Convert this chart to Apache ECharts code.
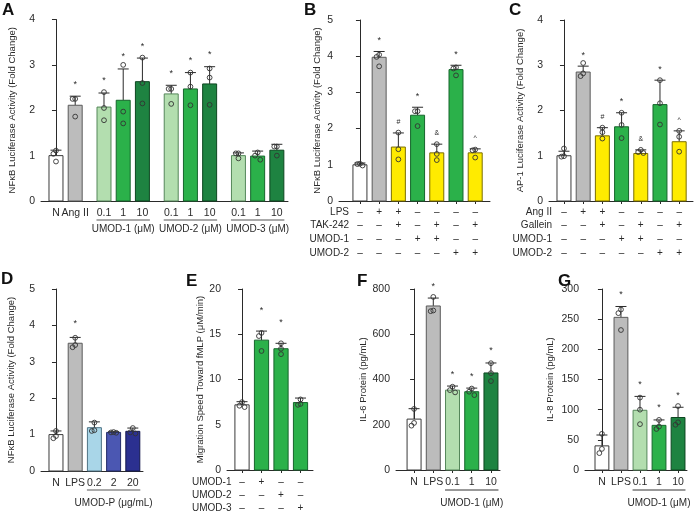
<!DOCTYPE html>
<html>
<head>
<meta charset="utf-8">
<script src="https://cdn.jsdelivr.net/npm/echarts@6/dist/echarts.min.js"></script>
<style>
  html, body { margin: 0; padding: 0; background: #fff; }
  #chart { width: 696px; height: 511px; }
</style>
</head>
<body>
<div id="chart"></div>
<script>
// ---- panel A: NFkB, Ang II + UMOD-1/2/3 ----
const aLabels = ['N', 'Ang II', '0.1', '1', '10', '0.1', '1', '10', '0.1', '1', '10'];
const aGroupOf = [0, 0, 1, 1, 1, 2, 2, 2, 3, 3, 3];
const aGroupNames = ['', 'UMOD-1 (μM)', 'UMOD-2 (μM)', 'UMOD-3 (μM)'];
const aMean = [1.0, 2.11, 2.07, 2.22, 2.63, 2.36, 2.47, 2.58, 1.0, 0.99, 1.12];
const aErr = [1.12, 2.31, 2.38, 2.91, 3.15, 2.55, 2.83, 2.96, 1.06, 1.1, 1.25];
const aDots = [[1.11, 1.04, 0.87], [2.25, 2.25, 1.86], [2.4, 2.05, 1.78], [3.0, 1.97, 1.71],
  [3.16, 2.6, 2.15], [2.47, 2.47, 2.14], [2.83, 2.52, 2.11], [2.92, 2.72, 2.12],
  [1.05, 1.05, 0.94], [1.07, 1.0, 0.91], [1.2, 1.2, 1.0]];
const aMarks = ['', '*', '*', '*', '*', '*', '*', '*', '', '', ''];
const aKind = ['ctrl', 'ref', 'lo', 'mid', 'hi', 'lo', 'mid', 'hi', 'lo', 'mid', 'hi'];

// ---- panel B: NFkB, LPS / TAK-242 ----
const bRows = ['LPS', 'TAK-242', 'UMOD-1', 'UMOD-2'];
const bSigns = [
  ['–', '+', '+', '–', '–', '–', '–'],
  ['–', '–', '+', '–', '+', '–', '+'],
  ['–', '–', '–', '+', '+', '–', '–'],
  ['–', '–', '–', '–', '–', '+', '+']];
const bMean = [1.0, 3.97, 1.49, 2.37, 1.33, 3.63, 1.33];
const bErr = [1.05, 4.13, 1.88, 2.59, 1.57, 3.75, 1.44];
const bDots = [[1.03, 1.02, 0.98], [4.04, 3.98, 3.72], [1.89, 1.43, 1.15], [2.48, 2.48, 2.07],
  [1.57, 1.3, 1.13], [3.69, 3.66, 3.47], [1.42, 1.4, 1.2]];
const bMarks = ['', '*', '#', '*', '&', '*', '^'];
const bKind = ['ctrl', 'ref', 'yel', 'mid', 'yel', 'mid', 'yel'];

// ---- panel C: AP-1, Ang II / Gallein ----
const cRows = ['Ang II', 'Gallein', 'UMOD-1', 'UMOD-2'];
const cSigns = bSigns;
const cMean = [1.0, 2.85, 1.44, 1.64, 1.05, 2.13, 1.31];
const cErr = [1.1, 2.98, 1.62, 1.95, 1.13, 2.67, 1.55];
const cDots = [[1.16, 0.99, 0.98], [3.05, 2.82, 2.76], [1.62, 1.52, 1.38], [1.95, 1.68, 1.39],
  [1.13, 1.08, 1.06], [2.67, 2.16, 1.69], [1.55, 1.42, 1.09]];
const cMarks = ['', '*', '#', '*', '&', '*', '^'];
const cKind = ['ctrl', 'ref', 'yel', 'mid', 'yel', 'mid', 'yel'];

// ---- panel D: UMOD-P ----
const dLabels = ['N', 'LPS', '0.2', '2', '20'];
const dGroupOf = [0, 0, 1, 1, 1];
const dGroupNames = ['', 'UMOD-P (μg/mL)'];
const dMean = [1.0, 3.51, 1.19, 1.06, 1.09];
const dErr = [1.1, 3.67, 1.35, 1.08, 1.18];
const dDots = [[1.1, 0.96, 0.9], [3.66, 3.46, 3.4], [1.33, 1.12, 1.1], [1.07, 1.06, 1.05], [1.18, 1.06, 1.03]];
const dMarks = ['', '*', '', '', ''];
const dKind = ['ctrl', 'ref', 'b1', 'b2', 'b3'];

// ---- panel E: migration speed ----
const eRows = ['UMOD-1', 'UMOD-2', 'UMOD-3'];
const eSigns = [
  ['–', '+', '–', '–'],
  ['–', '–', '+', '–'],
  ['–', '–', '–', '+']];
const eMean = [7.2, 14.35, 13.4, 7.45];
const eErr = [7.55, 15.35, 14.0, 7.95];
const eDots = [[7.5, 7.1, 6.95], [15.15, 14.8, 13.15], [14.0, 13.4, 12.8], [7.8, 7.3, 7.2]];
const eMarks = ['', '*', '*', ''];
const eKind = ['ctrl', 'mid', 'mid', 'mid'];

// ---- panel F: IL-6 ----
const fLabels = ['N', 'LPS', '0.1', '1', '10'];
const fGroupOf = [0, 0, 1, 1, 1];
const fGroupNames = ['', 'UMOD-1 (μM)'];
const fMean = [225, 725, 353, 346, 429];
const fErr = [271, 760, 371, 362, 473];
const fDots = [[270, 208, 196], [765, 705, 702], [368, 353, 343], [360, 346, 331], [472, 428, 393]];
const fMarks = ['', '*', '*', '*', '*'];
const fKind = ['ctrl', 'ref', 'lo', 'mid', 'hi'];

// ---- panel G: IL-8 ----
const gLabels = ['N', 'LPS', '0.1', '1', '10'];
const gGroupOf = [0, 0, 1, 1, 1];
const gGroupNames = ['', 'UMOD-1 (μM)'];
const gMean = [40, 253, 99, 74, 87];
const gErr = [58, 271, 122, 83, 104];
const gDots = [[60, 35, 28], [266, 260, 232], [120, 100, 76], [83, 72, 68], [106, 79, 75]];
const gMarks = ['', '*', '*', '*', '*'];
const gKind = ['ctrl', 'ref', 'lo', 'mid', 'hi'];

const FONT = '"Liberation Sans", Arial, Helvetica, sans-serif';
const INK = '#2a2a2a';
const fills = {
  ctrl: ['#ffffff', '#3a3a3a'],
  ref: ['#bcbcbc', '#5a5a5a'],
  lo: ['#b3deaf', '#55875a'],
  mid: ['#2bb14a', '#16652c'],
  hi: ['#1e8341', '#0d4620'],
  yel: ['#ffeb00', '#7a6d00'],
  b1: ['#a9d6e8', '#4f7486'],
  b2: ['#4b57b2', '#222a68'],
  b3: ['#2b3090', '#12164c']
};

function withGaps(groupOf, gap) {
  return groupOf.map((g, i) => i + g * gap);
}

const panels = [
  { letter: 'A', lx: 2, ly: 2, grid: { left: 41, top: 19.5, width: 247, height: 181.5 },
    xMin: -0.78, xMax: 12.08, yMax: 4, yStep: 1, nameGap: 24,
    yName: 'NFκB Luciferase Activity (Fold Change)',
    pos: withGaps(aGroupOf, 0.5), mean: aMean, err: aErr, dots: aDots, marks: aMarks, kind: aKind,
    labels: aLabels, groupOf: aGroupOf, groupNames: aGroupNames,
    lineOff: 19, textOff: 28, lineColor: '#555', lineW: 1, starGap: 12, ticks: false },
  { letter: 'B', lx: 304, ly: 2, grid: { left: 339, top: 20, width: 151, height: 181 },
    xMin: -1.09, xMax: 6.77, yMax: 5, yStep: 1, nameGap: 17,
    yName: 'NFκB Luciferase Activity (Fold Change)',
    pos: bMean.map((v, i) => i), mean: bMean, err: bErr, dots: bDots, marks: bMarks, kind: bKind,
    rows: bRows, signs: bSigns, rowX: 349, rowAlign: 'right', signTop: 11, rowH: 13.7,
    starGap: 11, ticks: true },
  { letter: 'C', lx: 509, ly: 2, grid: { left: 549, top: 20, width: 144, height: 181 },
    xMin: -0.78, xMax: 6.72, yMax: 4, yStep: 1, nameGap: 24,
    yName: 'AP-1 Luciferase Activity (Fold Change)',
    pos: cMean.map((v, i) => i), mean: cMean, err: cErr, dots: cDots, marks: cMarks, kind: cKind,
    rows: cRows, signs: cSigns, rowX: 552, rowAlign: 'right', signTop: 11, rowH: 13.7,
    starGap: 11, ticks: true },
  { letter: 'D', lx: 1, ly: 271, grid: { left: 41, top: 289, width: 102, height: 182 },
    xMin: -0.78, xMax: 4.53, yMax: 5, yStep: 1, nameGap: 25,
    yName: 'NFκB Luciferase Activity (Fold Change)',
    pos: withGaps(dGroupOf, 0), mean: dMean, err: dErr, dots: dDots, marks: dMarks, kind: dKind,
    labels: dLabels, groupOf: dGroupOf, groupNames: dGroupNames,
    lineOff: 19, textOff: 32, lineColor: '#aaaaaa', lineW: 2, starGap: 14, ticks: false },
  { letter: 'E', lx: 186, ly: 273, grid: { left: 227, top: 289, width: 86, height: 181 },
    xMin: -0.77, xMax: 3.64, yMax: 20, yStep: 5, nameGap: 19,
    yName: 'Migration Speed Toward fMLP (μM/min)',
    pos: eMean.map((v, i) => i), mean: eMean, err: eErr, dots: eDots, marks: eMarks, kind: eKind,
    rows: eRows, signs: eSigns, rowX: 192, rowAlign: 'left', signTop: 12, rowH: 13.3,
    starGap: 21, ticks: true },
  { letter: 'F', lx: 357, ly: 273, grid: { left: 396, top: 289, width: 104, height: 181 },
    xMin: -0.94, xMax: 4.47, yMax: 800, yStep: 200, nameGap: 28,
    yName: 'IL-6 Protein (pg/mL)',
    pos: withGaps(fGroupOf, 0), mean: fMean, err: fErr, dots: fDots, marks: fMarks, kind: fKind,
    labels: fLabels, groupOf: fGroupOf, groupNames: fGroupNames,
    lineOff: 20, textOff: 33, lineColor: '#333', lineW: 1, starGap: 12, ticks: true },
  { letter: 'G', lx: 558, ly: 273, grid: { left: 585, top: 289, width: 102, height: 181 },
    xMin: -0.89, xMax: 4.47, yMax: 300, yStep: 50, nameGap: 30,
    yName: 'IL-8 Protein (pg/mL)',
    pos: withGaps(gGroupOf, 0), mean: gMean, err: gErr, dots: gDots, marks: gMarks, kind: gKind,
    labels: gLabels, groupOf: gGroupOf, groupNames: gGroupNames,
    lineOff: 20, textOff: 33, lineColor: '#333', lineW: 1, starGap: 12, ticks: true }
];

function txt(x, y, s, size, align) {
  return { type: 'text', x: x, y: y,
    style: { text: s, fill: INK, font: size + 'px ' + FONT, textAlign: align || 'center', textVerticalAlign: 'middle' } };
}

function barSeries(p, k) {
  return {
    type: 'custom', xAxisIndex: k, yAxisIndex: k, clip: false,
    data: p.mean.map((m, i) => [p.pos[i], m, p.err[i]]),
    renderItem(params, api) {
      const i = params.dataIndex;
      const x = api.value(0), m = api.value(1), e = api.value(2);
      const base = api.coord([x, 0]), top = api.coord([x, m]), cap = api.coord([x, e]);
      const w = api.size([0.78, 0])[0];
      const capW = 11;
      const col = fills[p.kind[i]];
      const kids = [
        { type: 'line', shape: { x1: cap[0], y1: top[1], x2: cap[0], y2: cap[1] }, style: { stroke: INK, lineWidth: 1 } },
        { type: 'line', shape: { x1: cap[0] - capW / 2, y1: cap[1], x2: cap[0] + capW / 2, y2: cap[1] }, style: { stroke: INK, lineWidth: 1 } },
        { type: 'rect', shape: { x: base[0] - w / 2 + 0.5, y: top[1], width: w - 1, height: base[1] - top[1] },
          style: { fill: col[0], stroke: col[1], lineWidth: 1 } }
      ];
      // open circles, nudged sideways when they overlap
      const ys = p.dots[i].map(v => api.coord([x, v])[1]).sort((a, b) => a - b);
      let prev = -99, side = -1;
      ys.forEach(y => {
        let dx = 0;
        if (y - prev < 4.5) { dx = side * 2.6; side = -side; }
        else side = -1;
        prev = y;
        kids.push({ type: 'circle', shape: { cx: base[0] + dx, cy: y, r: 2.4 },
          style: { fill: 'rgba(255,255,255,0)', stroke: '#333', lineWidth: 0.9 } });
      });
      if (p.marks[i]) kids.push(txt(base[0], cap[1] - p.starGap, p.marks[i], p.marks[i] === '*' ? 9 : 7));
      if (p.labels) kids.push(txt(base[0], base[1] + 12, p.labels[i], 10.5));
      if (p.signs) p.signs.forEach((row, r) => kids.push(txt(base[0], base[1] + p.signTop + r * p.rowH, row[i], 10)));
      return { type: 'group', children: kids };
    }
  };
}

function groupSeries(p, k) {
  const spans = [];
  p.groupNames.forEach((name, g) => {
    if (!name) return;
    const idx = p.groupOf.map((v, i) => v === g ? i : -1).filter(i => i >= 0);
    spans.push([p.pos[idx[0]], p.pos[idx[idx.length - 1]], g]);
  });
  return {
    type: 'custom', xAxisIndex: k, yAxisIndex: k, clip: false, silent: true,
    data: spans,
    renderItem(params, api) {
      const a = api.coord([api.value(0) - 0.39, 0]), b = api.coord([api.value(1) + 0.39, 0]);
      const y = a[1] + p.lineOff;
      return { type: 'group', children: [
        { type: 'line', shape: { x1: a[0], y1: y, x2: b[0], y2: y }, style: { stroke: p.lineColor, lineWidth: p.lineW } },
        txt((a[0] + b[0]) / 2, a[1] + p.textOff, p.groupNames[api.value(2)], 10)
      ] };
    }
  };
}

const grid = [], xAxis = [], yAxis = [], series = [], graphic = [];
panels.forEach((p, k) => {
  grid.push(Object.assign({ containLabel: false }, p.grid));
  xAxis.push({
    type: 'value', gridIndex: k, min: p.xMin, max: p.xMax,
    axisLine: { show: true, onZero: false, lineStyle: { color: INK, width: 1 } },
    axisTick: { show: p.ticks, customValues: p.pos, length: 3, lineStyle: { color: INK } },
    axisLabel: { show: false }, splitLine: { show: false }
  });
  yAxis.push({
    type: 'value', gridIndex: k, min: 0, max: p.yMax, interval: p.yStep,
    name: p.yName, nameLocation: 'middle', nameRotate: 90, nameGap: p.nameGap,
    nameTextStyle: { fontSize: 9.5, color: INK, fontFamily: FONT },
    axisLine: { show: true, lineStyle: { color: INK, width: 1 } },
    axisTick: { show: true, length: 4, lineStyle: { color: INK } },
    axisLabel: { fontSize: 10.5, color: INK, fontFamily: FONT, margin: 6 },
    splitLine: { show: false }
  });
  series.push(barSeries(p, k));
  if (p.groupNames) series.push(groupSeries(p, k));
  graphic.push({ type: 'text', left: p.lx, top: p.ly,
    style: { text: p.letter, font: 'bold 17px ' + FONT, fill: '#111' } });
  if (p.rows) p.rows.forEach((r, j) => {
    graphic.push({ type: 'text', x: p.rowX, y: p.grid.top + p.grid.height + p.signTop + j * p.rowH,
      style: { text: r, font: '10px ' + FONT, fill: INK, textAlign: p.rowAlign, textVerticalAlign: 'middle' } });
  });
});

const chart = echarts.init(document.getElementById('chart'), null, { renderer: 'canvas' });
chart.setOption({
  animation: false,
  backgroundColor: '#ffffff',
  textStyle: { fontFamily: FONT },
  grid: grid, xAxis: xAxis, yAxis: yAxis, series: series, graphic: graphic
});
</script>
</body>
</html>
